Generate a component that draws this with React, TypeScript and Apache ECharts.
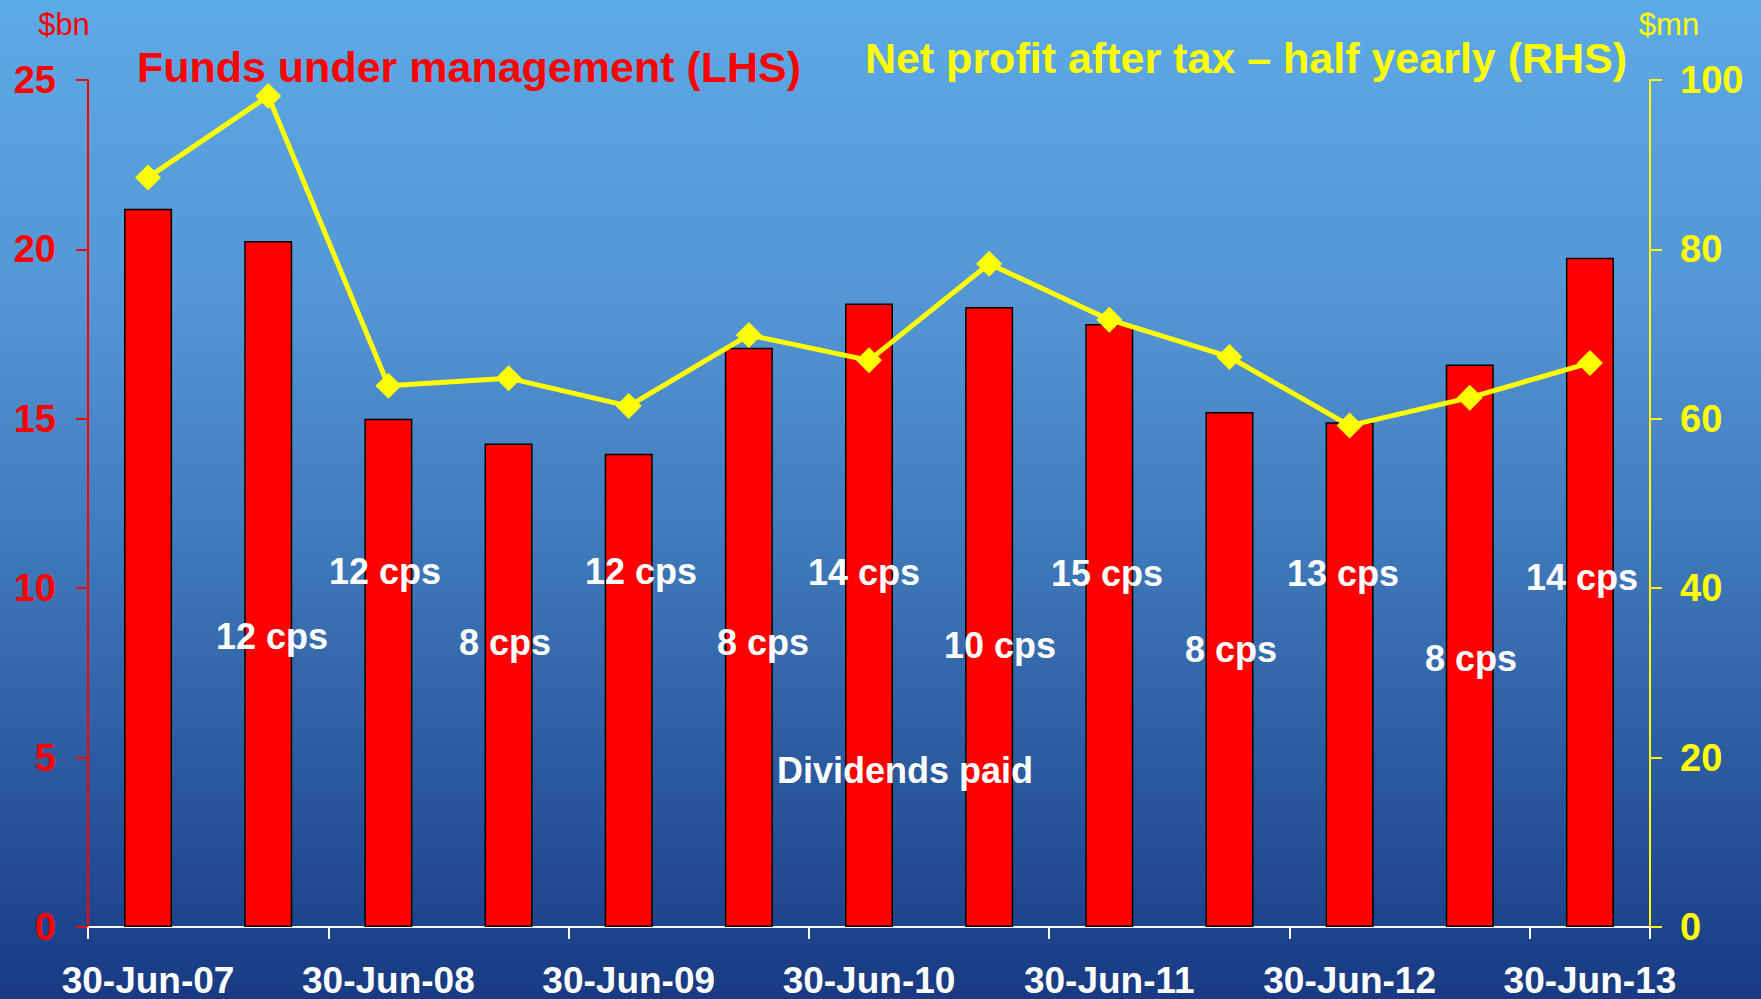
import React, { useEffect, useRef } from "react";
import * as echarts from "echarts";

const categories = [
  "30-Jun-07", "31-Dec-07", "30-Jun-08", "31-Dec-08", "30-Jun-09", "31-Dec-09",
  "30-Jun-10", "31-Dec-10", "30-Jun-11", "31-Dec-11", "30-Jun-12", "31-Dec-12", "30-Jun-13",
];
const fundsUnderManagement = [21.2, 20.25, 15.0, 14.27, 13.97, 17.1, 18.4, 18.3, 17.8, 15.2, 14.9, 16.6, 19.75];
const netProfit = [88.5, 98.1, 63.9, 64.8, 61.5, 69.9, 66.9, 78.3, 71.7, 67.3, 59.2, 62.5, 66.6];
const dividends = ["12 cps", "12 cps", "8 cps", "12 cps", "8 cps", "14 cps", "10 cps", "15 cps", "8 cps", "13 cps", "8 cps", "14 cps"];
const leftTicks = [0, 5, 10, 15, 20, 25];
const rightTicks = [0, 20, 40, 60, 80, 100];

// label layout (pixel centres) for the dividend annotations
const dividendLayout = [
  [272, 636], [385, 571], [505, 642], [641, 571], [763, 642], [864, 572],
  [1000, 645], [1107, 573], [1231, 649], [1343, 573], [1471, 658], [1582, 577],
];

const FONT = 'Arial, "Liberation Sans", Helvetica, sans-serif';

export default function App() {
  const ref = useRef<HTMLDivElement>(null);
  useEffect(() => {
    if (!ref.current) return;
    const chart = echarts.init(ref.current, null, { renderer: "svg" });
    const txt = (text: string, x: number, y: number, fill: string, size: number, weight = "bold") => ({
      type: "text",
      x,
      y,
      z: 100,
      style: {
        text,
        fill,
        font: `${weight} ${size}px ${FONT}`,
        align: "center",
        verticalAlign: "middle",
        textAlign: "center",
        textVerticalAlign: "middle",
      },
    });
    const graphics: any[] = [
      txt("Funds under management (LHS)", 469, 67, "#FF0000", 43),
      txt("Net profit after tax \u2013 half yearly (RHS)", 1246, 58, "#FFFF00", 43),
      txt("$bn", 64, 24, "#FF0000", 31, "normal"),
      txt("$mn", 1669, 24, "#FFFF00", 31, "normal"),
      txt("Dividends paid", 905, 770, "#FFFFFF", 36),
      ...dividends.map((d, i) => txt(d, dividendLayout[i][0], dividendLayout[i][1], "#FFFFFF", 36)),
    ];
    chart.setOption({
      animation: false,
      backgroundColor: new echarts.graphic.LinearGradient(0, 0, 0, 1, [
        { offset: 0, color: "#5CAAE6" },
        { offset: 0.3, color: "#5496D4" },
        { offset: 0.55, color: "#3F79BA" },
        { offset: 0.75, color: "#2D5DA1" },
        { offset: 1, color: "#183A82" },
      ]),
      grid: { left: 88, right: 111, top: 80, bottom: 72, containLabel: false },
      xAxis: {
        type: "category",
        data: categories,
        boundaryGap: true,
        axisLine: { lineStyle: { color: "#FFFFFF", width: 2 } },
        axisTick: { show: true, interval: 1, length: 12, lineStyle: { color: "#FFFFFF", width: 2 } },
        axisLabel: {
          interval: 1,
          color: "#FFFFFF",
          fontSize: 37,
          lineHeight: 34,
          fontWeight: "bold",
          fontFamily: FONT,
          margin: 36,
        },
        splitLine: { show: false },
      },
      yAxis: [
        {
          type: "value",
          min: leftTicks[0],
          max: leftTicks[leftTicks.length - 1],
          interval: 5,
          position: "left",
          axisLine: { show: true, lineStyle: { color: "#FF0000", width: 2 } },
          axisTick: { show: true, length: 12, lineStyle: { color: "#FF0000", width: 2 } },
          axisLabel: { color: "#FF0000", fontSize: 38, fontWeight: "bold", fontFamily: FONT, margin: 32 },
          splitLine: { show: false },
        },
        {
          type: "value",
          min: rightTicks[0],
          max: rightTicks[rightTicks.length - 1],
          interval: 20,
          position: "right",
          axisLine: { show: true, lineStyle: { color: "#FFFF00", width: 2 } },
          axisTick: { show: true, length: 12, lineStyle: { color: "#FFFF00", width: 2 } },
          axisLabel: { color: "#FFFF00", fontSize: 38, fontWeight: "bold", fontFamily: FONT, margin: 30 },
          splitLine: { show: false },
        },
      ],
      series: [
        {
          name: "Funds under management (LHS)",
          type: "bar",
          yAxisIndex: 0,
          data: fundsUnderManagement,
          barWidth: 48,
          itemStyle: { color: "#FF0000", borderColor: "#000000", borderWidth: 1.5 },
          z: 2,
        },
        {
          name: "Net profit after tax \u2013 half yearly (RHS)",
          type: "line",
          yAxisIndex: 1,
          data: netProfit,
          symbol: "diamond",
          symbolSize: 26,
          lineStyle: { color: "#FFFF00", width: 5 },
          itemStyle: { color: "#FFFF00" },
          z: 5,
        },
      ],
      graphic: graphics,
    });
    return () => chart.dispose();
  }, []);
  return (
    <div
      ref={ref}
      style={{ position: "fixed", left: 0, top: 0, width: 1761, height: 999 }}
    />
  );
}
